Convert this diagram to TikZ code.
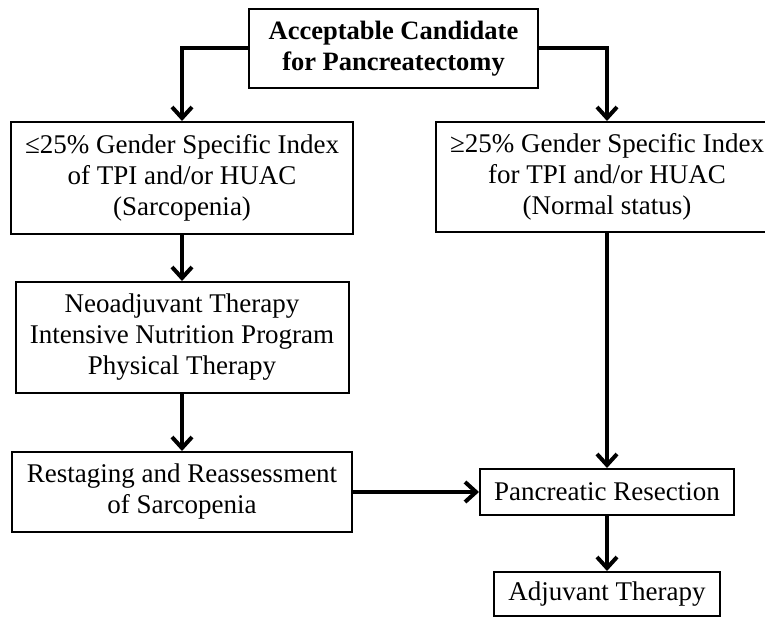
\documentclass[tikz,border=0pt]{standalone}
\usepackage{fontspec}
\setmainfont{Liberation Serif}
\usetikzlibrary{arrows.meta}

\begin{document}
\begin{tikzpicture}[
  x=1pt, y=-1pt,
  kotak/.style={draw, line width=2pt, inner sep=0pt, align=center,
    font=\fontsize{27}{31}\selectfont},
  panah/.style={-{Straight Barb[length=11pt, width=20pt]}, line width=4pt}
]
  \useasboundingbox (0,0) rectangle (765,618);
  \node[kotak, minimum width=289pt, minimum height=79pt, font=\fontsize{26.5}{31}\selectfont\bfseries]
    (cand) at (393.5,48.5) {Acceptable Candidate\\for Pancreatectomy};
  \node[kotak, minimum width=342pt, minimum height=112pt] (sarc) at (182,178)
    {≤25\% Gender Specific Index\\of TPI and/or HUAC\\(Sarcopenia)};
  \node[kotak, minimum width=342pt, minimum height=110pt] (norm) at (607,177)
    {≥25\% Gender Specific Index\\for TPI and/or HUAC\\(Normal status)};
  \node[kotak, minimum width=333pt, minimum height=111pt] (neo) at (182,337.5)
    {Neoadjuvant Therapy\\Intensive Nutrition Program\\Physical Therapy};
  \node[kotak, minimum width=340pt, minimum height=80pt] (rest) at (182,492)
    {Restaging and Reassessment\\of Sarcopenia};
  \node[kotak, minimum width=254pt, minimum height=46pt] (res) at (607,492)
    {Pancreatic Resection};
  \node[kotak, minimum width=226pt, minimum height=44pt] (adj) at (607,594)
    {Adjuvant Therapy};

  \draw[panah] (cand.west) -| (sarc.north);
  \draw[panah] (cand.east) -| (norm.north);
  \draw[panah] (sarc) -- (neo);
  \draw[panah] (neo) -- (rest);
  \draw[panah] (rest) -- (res);
  \draw[panah] (norm) -- (res);
  \draw[panah] (res) -- (adj);
\end{tikzpicture}
\end{document}
